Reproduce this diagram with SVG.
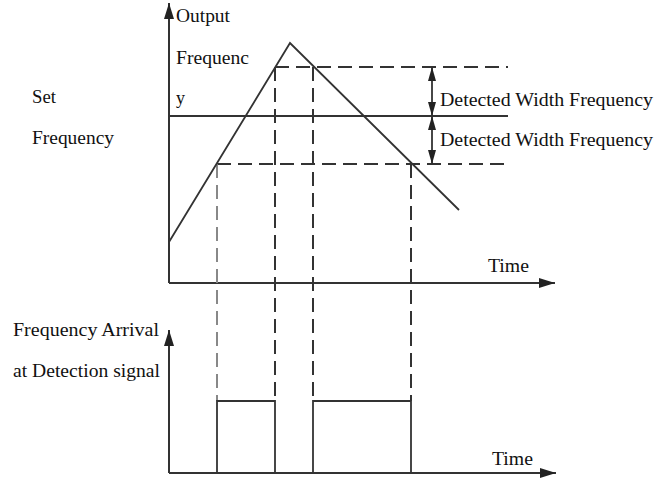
<svg xmlns="http://www.w3.org/2000/svg" width="654" height="479" viewBox="0 0 654 479">
<style>
text{font-family:"Liberation Serif","DejaVu Serif",serif;font-size:18px;fill:#111}
.ax{stroke:#333;stroke-width:2;fill:none}
.ln{stroke:#333;stroke-width:1.8;fill:none}
.ds{stroke:#333;stroke-width:2;fill:none;stroke-dasharray:14,7}
.dsl{stroke:#888;stroke-width:2;fill:none;stroke-dasharray:14,7}
</style>
<defs>
<marker id="ah" viewBox="0 0 16 10" refX="16" refY="5" markerWidth="16" markerHeight="10" markerUnits="userSpaceOnUse" orient="auto-start-reverse">
<path d="M0,0 L16,5 L0,10 Z" fill="#222"/>
</marker>
<marker id="ah2" viewBox="0 0 14 8" refX="14" refY="4" markerWidth="14" markerHeight="8" markerUnits="userSpaceOnUse" orient="auto-start-reverse">
<path d="M0,0 L14,4 L0,8 Z" fill="#222"/>
</marker>
</defs>
<g id="top-axes">
<line class="ax" x1="169" y1="283" x2="169" y2="3" marker-end="url(#ah)"/>
<line class="ax" x1="169" y1="283" x2="555" y2="283" marker-end="url(#ah)"/>
</g>
<g id="bottom-axes">
<line class="ax" x1="169" y1="473" x2="169" y2="330" marker-end="url(#ah)"/>
<line class="ax" x1="169" y1="473" x2="556" y2="473" marker-end="url(#ah)"/>
</g>
<g id="connectors">
<line class="ln" x1="169" y1="116" x2="508" y2="116"/>
<line class="ds" x1="275" y1="67" x2="508" y2="67"/>
<line class="ds" x1="217" y1="164" x2="508" y2="164"/>
<line class="dsl" x1="217" y1="164" x2="217" y2="401"/>
<line class="ds" x1="275" y1="67" x2="275" y2="401"/>
<line class="ds" x1="313" y1="67" x2="313" y2="401"/>
<line class="ds" x1="411" y1="164" x2="411" y2="401"/>
<polyline class="ln" points="169,242 290,43 459,210"/>
<line class="ln" x1="432" y1="91" x2="432" y2="67" marker-end="url(#ah2)"/>
<line class="ln" x1="432" y1="91" x2="432" y2="116" marker-end="url(#ah2)"/>
<line class="ln" x1="432" y1="140" x2="432" y2="116" marker-end="url(#ah2)"/>
<line class="ln" x1="432" y1="140" x2="432" y2="164" marker-end="url(#ah2)"/>
<polyline class="ln" points="217,473 217,401 275,401 275,473"/>
<polyline class="ln" points="313,473 313,401 411,401 411,473"/>
</g>
<g id="labels">
<text x="176" y="22" textLength="54" lengthAdjust="spacingAndGlyphs">Output</text>
<text x="176" y="64" textLength="73" lengthAdjust="spacingAndGlyphs">Frequenc</text>
<text x="176" y="104">y</text>
<text x="32" y="103" textLength="24" lengthAdjust="spacingAndGlyphs">Set</text>
<text x="32" y="144" textLength="82" lengthAdjust="spacingAndGlyphs">Frequency</text>
<text x="440" y="106" textLength="213" lengthAdjust="spacingAndGlyphs">Detected Width Frequency</text>
<text x="440" y="146" textLength="213" lengthAdjust="spacingAndGlyphs">Detected Width Frequency</text>
<text x="488" y="272" textLength="41" lengthAdjust="spacingAndGlyphs">Time</text>
<text x="492" y="465" textLength="41" lengthAdjust="spacingAndGlyphs">Time</text>
<text x="13" y="336" textLength="146" lengthAdjust="spacingAndGlyphs">Frequency Arrival</text>
<text x="13" y="377" textLength="147" lengthAdjust="spacingAndGlyphs">at Detection signal</text>
</g>
</svg>
